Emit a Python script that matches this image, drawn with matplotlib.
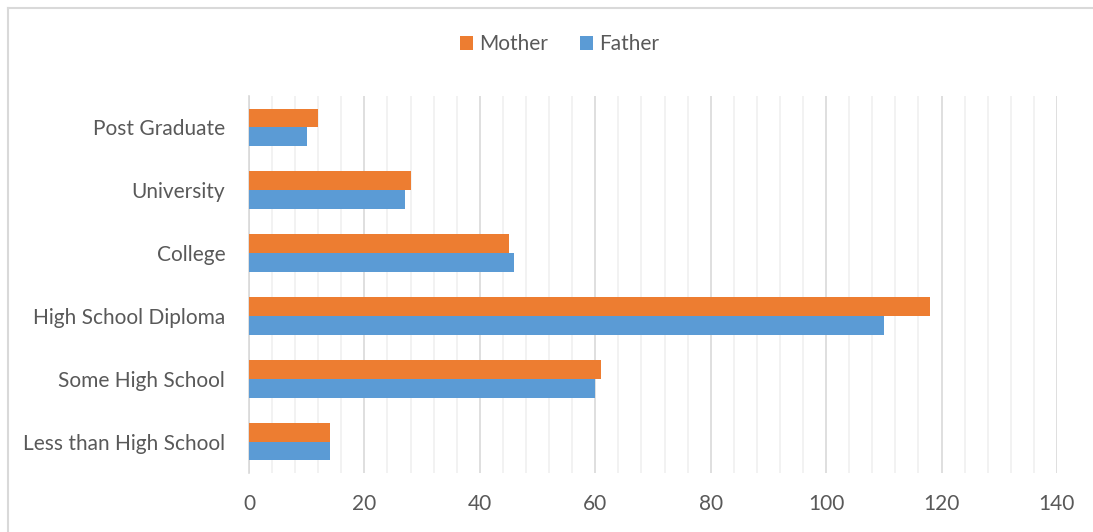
import matplotlib.pyplot as plt
import numpy as np
from matplotlib.lines import Line2D

# %%
# Data: parents' education level (counts)
categories = ["Less than High School", "Some High School", "High School Diploma",
              "College", "University", "Post Graduate"]
mother = [14, 61, 118, 45, 28, 12]
father = [14, 60, 110, 46, 27, 10]
x_ticks = [0, 20, 40, 60, 80, 100, 120, 140]

orange = "#ED7D31"
blue = "#5B9BD5"
text_gray = "#595959"

plt.rcParams["font.family"] = ["Lato", "DejaVu Sans"]

fig = plt.figure(figsize=(10.93, 5.32), dpi=100)
ax = fig.add_axes([0.2278, 0.111, 0.7392, 0.7085])

y = np.arange(len(categories))
h = 0.30
ax.barh(y + h / 2, mother, height=h, color=orange, label="Mother", zorder=3)
ax.barh(y - h / 2, father, height=h, color=blue, label="Father", zorder=3)

ax.set_xlim(0, 140)
ax.set_ylim(-0.5, len(categories) - 0.5)
ax.set_xticks(x_ticks)
ax.set_xticks(np.arange(0, 141, 4), minor=True)
ax.grid(axis="x", which="major", color="#D9D9D9", linewidth=1.2, zorder=1)
ax.grid(axis="x", which="minor", color="#F0F0F0", linewidth=1.2, zorder=0)
ax.set_yticks(y)
ax.set_yticklabels(categories)
ax.tick_params(axis="both", which="both", length=0, labelsize=15, colors=text_gray)
ax.tick_params(axis="x", pad=15)
ax.tick_params(axis="y", pad=17)
for s in ["top", "right", "bottom"]:
    ax.spines[s].set_visible(False)
ax.spines["left"].set_color("#D9D9D9")
ax.spines["left"].set_linewidth(1.2)

leg = fig.legend(loc="center", bbox_to_anchor=(0.512, 0.917), ncol=2, frameon=False,
                 fontsize=15, handlelength=0.65, handleheight=0.65, handletextpad=0.3,
                 columnspacing=1.5)
for t in leg.get_texts():
    t.set_color(text_gray)

# chart border (left and top only are inside the picture)
x0, y0 = 7.5 / 1093, 1 - 7.5 / 532
fig.add_artist(Line2D([x0, x0], [0, y0], transform=fig.transFigure,
                      color="#D9D9D9", linewidth=1.5))
fig.add_artist(Line2D([x0, 1], [y0, y0], transform=fig.transFigure,
                      color="#D9D9D9", linewidth=1.5))

fig.savefig("out.png", dpi=100)
